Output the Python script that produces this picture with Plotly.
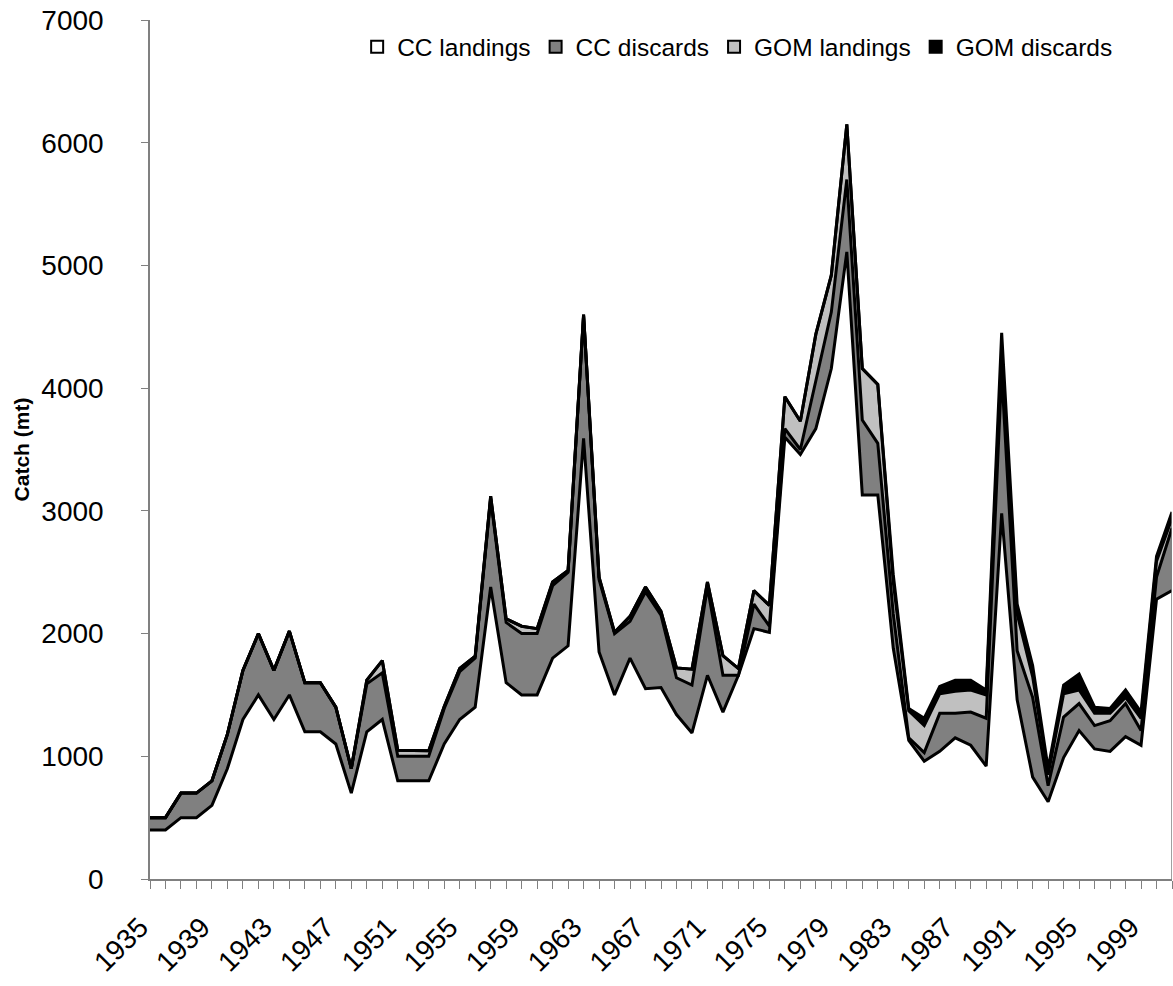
import plotly.graph_objects as go

years = list(range(1935, 2002))

cc_landings = [400, 400, 500, 500, 600, 900, 1300, 1500, 1300, 1500,
               1200, 1200, 1100, 700, 1200, 1300, 800, 800, 800, 1100,
               1300, 1400, 2380, 1600, 1500, 1500, 1800, 1900, 3590, 1850,
               1500, 1800, 1550, 1560, 1340, 1190, 1660, 1360, 1660, 2040,
               2010, 3600, 3460, 3670, 4160, 5110, 3130, 3130, 1880, 1130,
               960, 1040, 1150, 1090, 920, 2980, 1460, 830, 630, 990,
               1210, 1060, 1040, 1160, 1090, 2280, 2350]
cc_discards = [100, 100, 200, 200, 200, 280, 400, 500, 400, 520,
               400, 400, 300, 200, 390, 380, 200, 200, 200, 290,
               390, 400, 720, 490, 500, 500, 590, 600, 1000, 590,
               500, 300, 790, 590, 300, 390, 720, 300, 0, 200,
               50, 70, 40, 390, 460, 590, 610, 420, 280, 20,
               70, 310, 200, 270, 390, 1150, 400, 650, 130, 330,
               220, 190, 250, 270, 120, 180, 510]
gom_landings = [0, 0, 0, 0, 0, 0, 0, 0, 0, 0,
                0, 0, 0, 0, 30, 100, 50, 45, 45, 15,
                25, 15, 20, 30, 60, 40, 30, 15, 10, 20,
                10, 40, 40, 30, 80, 130, 40, 160, 55, 110,
                170, 260, 230, 380, 300, 450, 420, 480, 260, 220,
                220, 160, 180, 180, 190, 150, 300, 170, 90, 190,
                110, 100, 60, 50, 100, 130, 80]
gom_discards = [0, 0, 0, 0, 0, 0, 0, 0, 0, 0,
                0, 0, 0, 0, 0, 0, 0, 0, 0, 0,
                0, 0, 0, 0, 0, 0, 0, 0, 0, 0,
                0, 0, 0, 0, 0, 0, 0, 0, 0, 0,
                0, 0, 0, 0, 0, 0, 0, 0, 60, 20,
                60, 60, 90, 80, 40, 170, 80, 90, 50, 70,
                130, 50, 40, 60, 50, 40, 50]

series = [
    ("CC landings", cc_landings, "#FFFFFF"),
    ("CC discards", cc_discards, "#808080"),
    ("GOM landings", gom_landings, "#C0C0C0"),
    ("GOM discards", gom_discards, "#000000"),
]

FONT = "Liberation Sans, Arial, sans-serif"

fig = go.Figure()
for name, vals, col in series:
    fig.add_trace(go.Scatter(
        x=years, y=vals, name=name, mode="lines",
        stackgroup="one", fillcolor=col,
        line=dict(color="#000000", width=3, shape="linear"),
        hoverinfo="skip", showlegend=False,
    ))

# legend entries as square swatches
for name, vals, col in series:
    fig.add_trace(go.Bar(
        x=[None], y=[None], name=name,
        marker=dict(color=col, line=dict(color="#000000", width=1.5)),
        showlegend=True, hoverinfo="skip",
    ))

# right-hand edge of the stacked area
total_last = cc_landings[-1] + cc_discards[-1] + gom_landings[-1] + gom_discards[-1]
fig.add_trace(go.Scatter(x=[years[-1], years[-1]], y=[0, total_last], mode="lines",
                         line=dict(color="#808080", width=1.5), showlegend=False,
                         hoverinfo="skip"))

fig.update_layout(
    width=1173, height=986,
    margin=dict(l=150, r=1, t=20, b=107, autoexpand=False),
    paper_bgcolor="white", plot_bgcolor="white",
    font=dict(family=FONT, color="black"),
    showlegend=True,
    legend=dict(orientation="h", x=0.575, xanchor="center", y=0.995, yanchor="top",
                font=dict(size=24.5, family=FONT), traceorder="normal",
                itemsizing="constant", bgcolor="rgba(0,0,0,0)"),
)
fig.update_xaxes(
    range=[years[0], years[-1]], tickmode="linear", tick0=1935, dtick=4,
    ticks="outside", ticklen=8, tickcolor="#808080", tickwidth=1,
    showline=True, linecolor="#808080", linewidth=1.5,
    showgrid=False, zeroline=False, tickangle=-45, automargin=False,
    tickfont=dict(size=28, family=FONT), ticklabeloverflow="allow",
    ticklabelshift=-10, ticklabelstandoff=11,
    minor=dict(dtick=1, tick0=1935, ticks="outside", ticklen=8, tickcolor="#808080", showgrid=False),
)
fig.update_yaxes(
    range=[0, 7000], tickmode="linear", tick0=0, dtick=1000,
    ticks="outside", ticklen=7, tickcolor="#808080", tickwidth=1,
    showline=True, linecolor="#808080", linewidth=1.5,
    showgrid=False, zeroline=False, automargin=False,
    tickfont=dict(size=28, family=FONT), ticklabeloverflow="allow",
    ticklabelstandoff=32,
    title=dict(text="<b>Catch (mt)</b>", font=dict(size=21, family=FONT), standoff=6),
)

# remove the browser's default 8px page margin so the figure sits at the window origin
fig.write_html("out.html", config={"displayModeBar": False},
               post_script="document.body.style.margin='0';")
